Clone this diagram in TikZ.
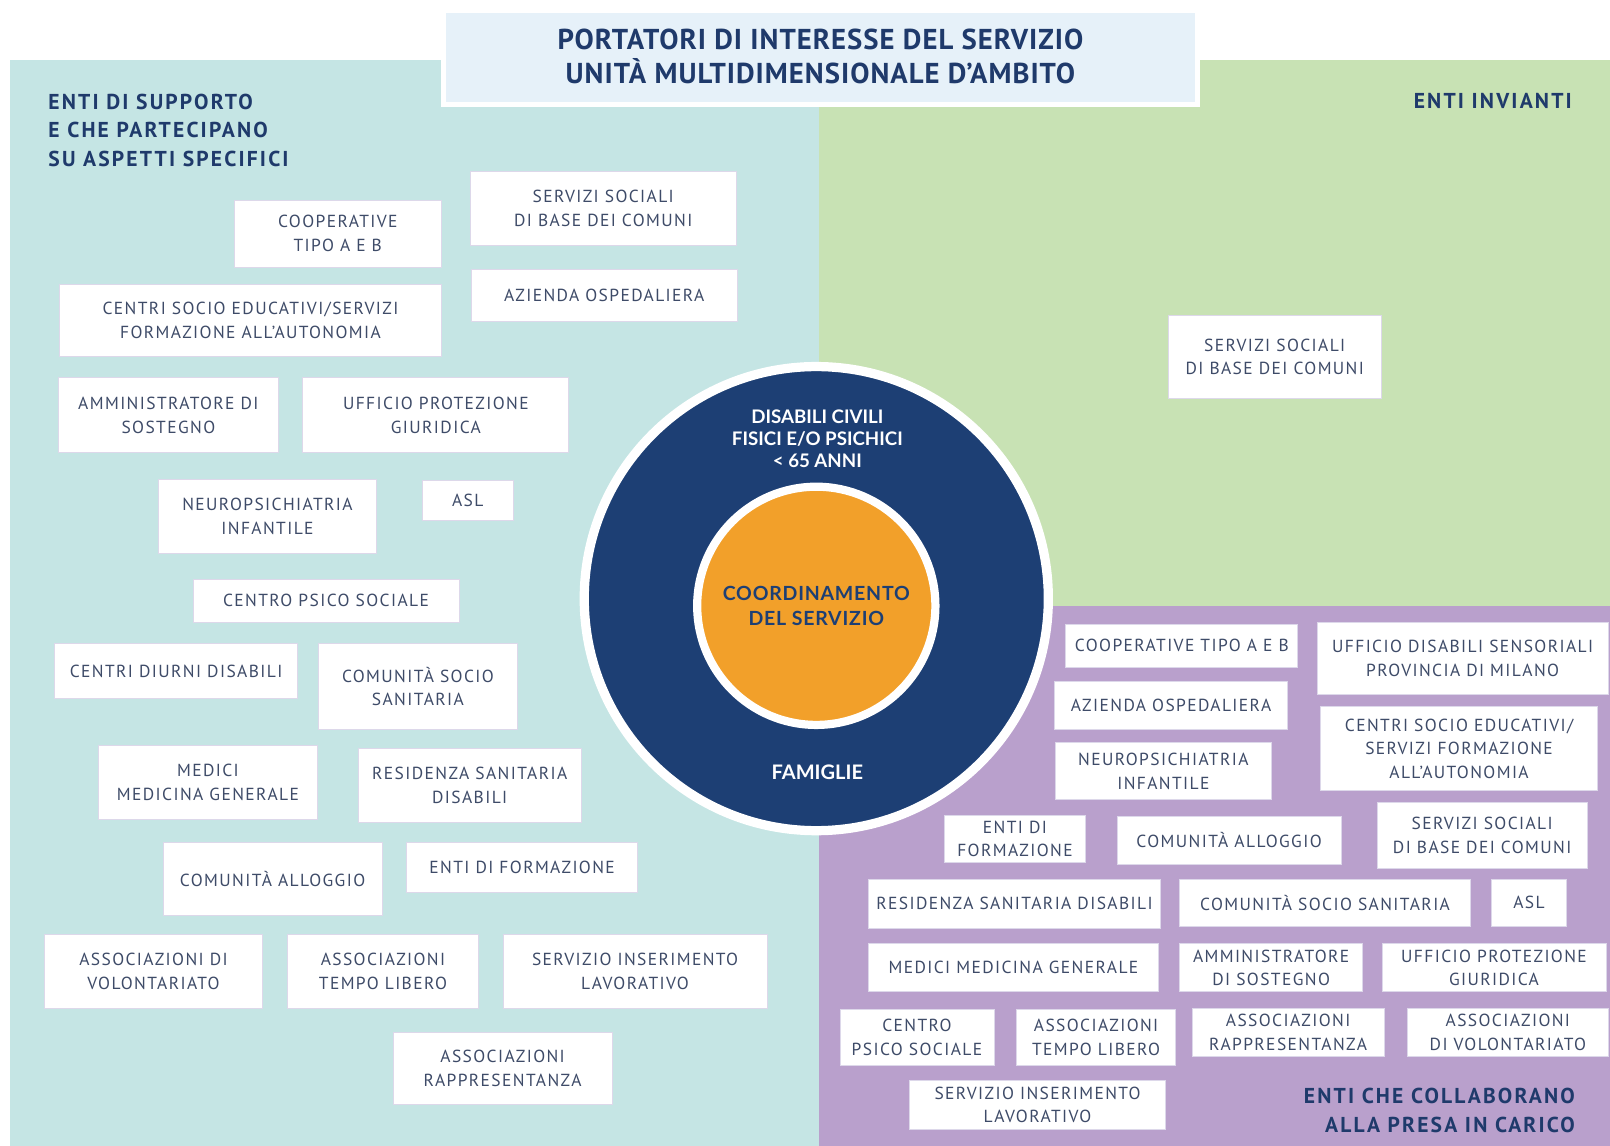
\documentclass[tikz,border=0pt]{standalone}
\usepackage{fontspec}
\newfontfamily\boxfont[LetterSpace=8]{PT Sans}
\newfontfamily\headfont[LetterSpace=10]{PT Sans}
\newfontfamily\titlefont[LetterSpace=3.5]{PT Sans}
\newfontfamily\circfont{Lato}
\newfontfamily\circfontwide[LetterSpace=4]{Lato}
\definecolor{teal}{HTML}{C5E5E4}
\definecolor{greenbg}{HTML}{C8E2B4}
\definecolor{purplebg}{HTML}{B9A0CC}
\definecolor{titlefill}{HTML}{E6F1F9}
\definecolor{navy}{HTML}{1D3F74}
\definecolor{orangec}{HTML}{F2A02A}
\definecolor{headtext}{HTML}{1F3A6B}
\definecolor{boxtext}{HTML}{3E4B68}
\definecolor{boxborder}{HTML}{DDD8EA}
\tikzset{
  box/.style={draw=boxborder,line width=0.8pt,fill=white,inner sep=0pt,align=center,
    text=boxtext,font=\boxfont\fontsize{17}{23}\selectfont},
  heading/.style={text=headtext,inner sep=0pt,font=\headfont\bfseries\fontsize{21}{28}\selectfont},
  circtext/.style={inner sep=0pt,align=center,font=\circfont\bfseries\fontsize{18.2}{21.5}\selectfont},
}
\newcommand\bx[6]{%
  \pgfmathsetmacro\bw{#4-#2}\pgfmathsetmacro\bh{#5-#3}%
  \node[box,minimum width=\bw pt,minimum height=\bh pt] (#1) at ({(#2+#4)/2},{(#3+#5)/2}) {#6};}
\begin{document}
\begin{tikzpicture}[x=1pt,y=-1pt]
\useasboundingbox (0,0) rectangle (1568,1116);
\fill[white] (0,0) rectangle (1568,1116);
% regions
\fill[teal] (10,58) rectangle (800,1116);
\fill[greenbg] (798,58) rectangle (1568,590);
\fill[purplebg] (798,590) rectangle (1568,1116);
% title
\draw[white,line width=5pt,fill=titlefill] (432,10) rectangle (1166,102);
\node[text=headtext,inner sep=0pt,align=center,font=\titlefont\bfseries\fontsize{28}{34}\selectfont] (title) at (799,55) {PORTATORI DI INTERESSE DEL SERVIZIO\\UNITÀ MULTIDIMENSIONALE D’AMBITO};
% headings
\node[heading,anchor=north west,align=left] (hsupp) at (47,91) {ENTI DI SUPPORTO\\E CHE PARTECIPANO\\SU ASPETTI SPECIFICI};
\node[heading,anchor=north east,align=right] (hinv) at (1531,91) {ENTI INVIANTI};
\node[heading,anchor=south east,align=right] (hcoll) at (1534,1103) {ENTI CHE COLLABORANO\\ALLA PRESA IN CARICO};
% circles
\node[circle,fill=navy,draw=white,line width=9pt,minimum size=452pt,inner sep=0pt] (outer) at (795,583) {};
\node[circle,fill=orangec,draw=white,line width=8pt,minimum size=232pt,inner sep=0pt] (inner) at (795,590) {};
\node[circtext,text=white] (disab) at (796,427) {DISABILI CIVILI\\FISICI E/O PSICHICI\\< 65 ANNI};
\node[circtext,text=navy,font=\circfontwide\bfseries\fontsize{19}{24}\selectfont] (coord) at (795,590) {COORDINAMENTO\\DEL SERVIZIO};
\node[circtext,text=white,font=\circfont\bfseries\fontsize{19.5}{24}\selectfont] (fam) at (796,752) {FAMIGLIE};
% left boxes
\bx{l1}{228}{195}{430}{260}{COOPERATIVE\\TIPO A E B}
\bx{l2}{458}{167}{717}{239}{SERVIZI SOCIALI\\DI BASE DEI COMUNI}
\bx{l3}{58}{277}{430}{347}{CENTRI SOCIO EDUCATIVI/SERVIZI\\FORMAZIONE ALL’AUTONOMIA}
\bx{l4}{459}{262}{718}{313}{AZIENDA OSPEDALIERA}
\bx{l5}{57}{368}{271}{441}{AMMINISTRATORE DI\\SOSTEGNO}
\bx{l6}{295}{368}{554}{441}{UFFICIO PROTEZIONE\\GIURIDICA}
\bx{l7}{154}{467}{367}{539}{NEUROPSICHIATRIA\\INFANTILE}
\bx{l8}{411}{468}{500}{507}{ASL}
\bx{l9}{188}{564}{447}{606}{CENTRO PSICO SOCIALE}
\bx{l10}{53}{627}{290}{680}{CENTRI DIURNI DISABILI}
\bx{l11}{310}{627}{504}{710}{COMUNITÀ SOCIO\\SANITARIA}
\bx{l12}{96}{726}{309}{798}{MEDICI\\MEDICINA GENERALE}
\bx{l13}{349}{729}{566}{801}{RESIDENZA SANITARIA\\DISABILI}
\bx{l14}{159}{820}{372}{892}{COMUNITÀ ALLOGGIO}
\bx{l15}{396}{820}{621}{869}{ENTI DI FORMAZIONE}
\bx{l16}{43}{910}{256}{982}{ASSOCIAZIONI DI\\VOLONTARIATO}
\bx{l17}{280}{910}{466}{982}{ASSOCIAZIONI\\TEMPO LIBERO}
\bx{l18}{490}{910}{747}{982}{SERVIZIO INSERIMENTO\\LAVORATIVO}
\bx{l19}{383}{1005}{596}{1076}{ASSOCIAZIONI\\RAPPRESENTANZA}
% green box
\bx{g1}{1138}{307}{1345}{388}{SERVIZI SOCIALI\\DI BASE DEI COMUNI}
% purple boxes
\bx{p1}{1038}{608}{1264}{650}{COOPERATIVE TIPO A E B}
\bx{p2}{1283}{606}{1566}{676}{UFFICIO DISABILI SENSORIALI\\PROVINCIA DI MILANO}
\bx{p3}{1027}{664}{1254}{710}{AZIENDA OSPEDALIERA}
\bx{p4}{1286}{688}{1556}{770}{CENTRI SOCIO EDUCATIVI/\\SERVIZI FORMAZIONE\\ALL’AUTONOMIA}
\bx{p5}{1028}{723}{1238}{779}{NEUROPSICHIATRIA\\INFANTILE}
\bx{p6}{920}{794}{1057}{840}{ENTI DI\\FORMAZIONE}
\bx{p7}{1088}{795}{1306}{842}{COMUNITÀ ALLOGGIO}
\bx{p8}{1341}{781}{1546}{846}{SERVIZI SOCIALI\\DI BASE DEI COMUNI}
\bx{p9}{846}{856}{1130}{904}{RESIDENZA SANITARIA DISABILI}
\bx{p10}{1149}{856}{1432}{902}{COMUNITÀ SOCIO SANITARIA}
\bx{p11}{1452}{856}{1526}{902}{ASL}
\bx{p12}{846}{919}{1128}{966}{MEDICI MEDICINA GENERALE}
\bx{p13}{1149}{919}{1327}{966}{AMMINISTRATORE\\DI SOSTEGNO}
\bx{p14}{1346}{919}{1564}{966}{UFFICIO PROTEZIONE\\GIURIDICA}
\bx{p15}{818}{983}{968}{1038}{CENTRO\\PSICO SOCIALE}
\bx{p16}{990}{983}{1145}{1038}{ASSOCIAZIONI\\TEMPO LIBERO}
\bx{p17}{1161}{982}{1348}{1029}{ASSOCIAZIONI\\RAPPRESENTANZA}
\bx{p18}{1371}{982}{1566}{1029}{ASSOCIAZIONI\\DI VOLONTARIATO}
\bx{p19}{886}{1052}{1135}{1100}{SERVIZIO INSERIMENTO\\LAVORATIVO}
\end{tikzpicture}
\end{document}
